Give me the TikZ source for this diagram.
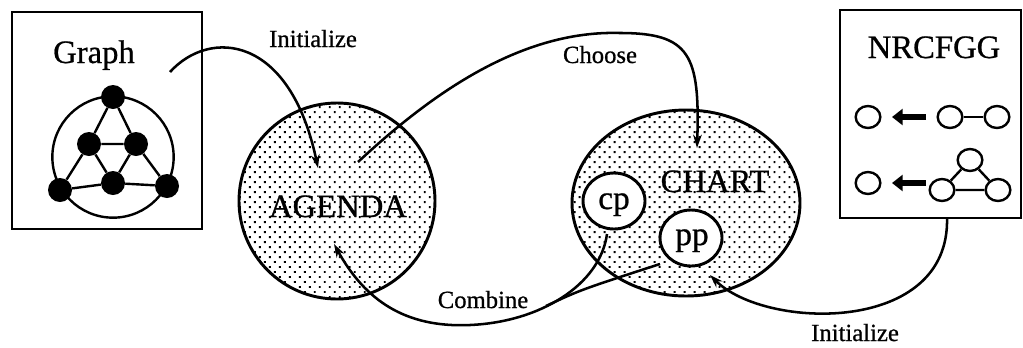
\documentclass[tikz,border=0pt]{standalone}
\usepackage{fontspec}
\setmainfont{Liberation Serif}[FakeBold=0.7]
\usetikzlibrary{shapes.geometric,arrows.meta,patterns.meta}
\begin{document}
\begin{tikzpicture}[x=0.75pt,y=-0.75pt,
  box/.style={draw,line width=1.7pt,inner sep=0pt,fill=white},
  dotfill/.style={draw,line width=2.2pt,inner sep=0pt,
    pattern={Dots[distance=5.3pt,angle=45,radius=1pt]},pattern color=black},
  innerell/.style={ellipse,draw,line width=2.2pt,fill=white,inner sep=0pt,
    minimum width=46.5pt,minimum height=42pt},
  gnode/.style={circle,fill=black,inner sep=0pt,minimum size=18pt},
  gedge/.style={line width=1.8pt},
  rnode/.style={ellipse,draw,line width=1.8pt,inner sep=0pt,minimum width=18.5pt,minimum height=16.5pt},
  bigarrow/.style={line width=5pt,-{Triangle[length=8pt,width=12pt]}},
  conn/.style={line width=1.9pt,-{Stealth[length=10pt,width=6.5pt]}},
  plain/.style={line width=1.9pt},
  bigtext/.style={font=\fontsize{24.5pt}{26pt}\selectfont,anchor=base},
  smalltext/.style={font=\fontsize{18.5pt}{20pt}\selectfont,anchor=base},
  midtext/.style={font=\fontsize{25pt}{27pt}\selectfont,anchor=base}
]
\useasboundingbox (0,0) rectangle (1023,347);

% Graph box
\node[box,minimum width=142.5pt,minimum height=162.75pt] (graphbox) at (107,120.5) {};
\node[bigtext] (graphlbl) at (94,63) {Graph};
\draw[gedge] (113,157) circle [radius=45.5pt];
\node[gnode] (g1) at (113,97) {};
\node[gnode] (g2) at (89,144) {};
\node[gnode] (g3) at (136,144) {};
\node[gnode] (g4) at (113,183) {};
\node[gnode] (g5) at (60,190) {};
\node[gnode] (g6) at (167,186) {};
\draw[gedge] (g1) -- (g2) (g1) -- (g3) (g2) -- (g3) (g2) -- (g4) (g3) -- (g4)
  (g2) -- (g5) (g3) -- (g6) (g5) -- (g4) (g4) -- (g6);

% NRCFGG box
\node[box,minimum width=135.75pt,minimum height=156pt] (nrbox) at (930.5,114) {};
\node[bigtext] (nrlbl) at (934,58) {NRCFGG};
\node[rnode] (r1a) at (868,117) {};
\node[rnode] (r1b) at (950,117) {};
\node[rnode] (r1c) at (997,117) {};
\coordinate (r1s) at (926,117);
\coordinate (r1e) at (892,117);
\draw[bigarrow] (r1s) -- (r1e);
\draw[gedge] (r1b) -- (r1c);
\node[rnode] (r2a) at (868,183) {};
\node[rnode] (r2t) at (970,160) {};
\node[rnode] (r2l) at (942,190) {};
\node[rnode] (r2r) at (998,190) {};
\coordinate (r2s) at (926,183);
\coordinate (r2e) at (892,183);
\draw[bigarrow] (r2s) -- (r2e);
\draw[gedge] (r2t) -- (r2l) (r2t) -- (r2r) (r2l) -- (r2r);

% AGENDA
\node[dotfill,circle,minimum size=147pt] (agenda) at (337,201) {};
\node[bigtext] (aglbl) at (338,217) {AGENDA};

% CHART
\node[dotfill,ellipse,minimum width=171pt,minimum height=139.5pt] (chart) at (686,203) {};
\node[bigtext] (chlbl) at (715,192) {CHART};
\node[innerell] (cp) at (614,201) {};
\node[midtext] (cplbl) at (614,209) {cp};
\node[innerell] (pp) at (691,238) {};
\node[midtext] (pplbl) at (692,245) {pp};

% connector end points
\coordinate (gstart) at (170,72);
\coordinate (agin1) at (318,168);
\coordinate (agout) at (358,162);
\coordinate (chin) at (697,148);
\coordinate (cpout) at (607,234);
\coordinate (ppout) at (660,264);
\coordinate (merge) at (546,306);
\coordinate (comb) at (470,325);
\coordinate (agin2) at (334,244);
\coordinate (nrout) at (947,218);
\coordinate (ppin) at (710,275);
\coordinate (chtop) at (620,33);

% connectors
\draw[conn] (gstart) .. controls (210,28) and (290,35) .. (agin1);
\node[smalltext] (init1) at (313,47) {Initialize};

\draw[conn] (agout) .. controls (430,95) and (520,30) .. (chtop)
  .. controls (690,33) and (700,55) .. (chin);
\node[smalltext] (choose) at (600,63) {Choose};

\draw[conn] (cpout) .. controls (600,285) and (540,322) .. (comb)
  .. controls (405,328) and (365,300) .. (agin2);
\draw[plain] (ppout) .. controls (580,290) .. (merge);
\node[smalltext] (combine) at (483,308) {Combine};

\draw[conn] (nrout) .. controls (950,335) and (765,330) .. (ppin);
\node[smalltext] (init2) at (855,341) {Initialize};
\end{tikzpicture}
\end{document}
